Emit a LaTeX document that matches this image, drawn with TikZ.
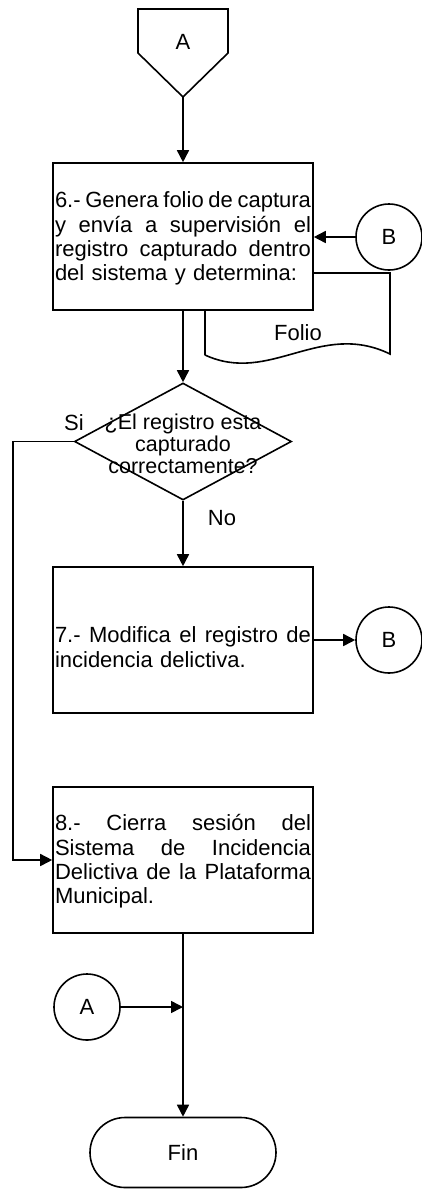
\documentclass[tikz,border=0pt]{standalone}
\usepackage{fontspec}
\setmainfont{Liberation Sans}
\usetikzlibrary{shapes.geometric,arrows.meta}
\newcommand{\jl}[1]{\leavevmode\hbox to 256pt{#1}}
\begin{document}
\begin{tikzpicture}[x=1pt,y=-1pt,
  every node/.style={font=\fontsize{22pt}{24.3pt}\selectfont},
  ln/.style={line width=1.6pt, draw=black},
  arr/.style={ln, -{Triangle[length=12pt,width=12pt]}},
  proc/.style={ln, fill=white, rectangle, minimum width=260pt, inner sep=0pt},
  txt/.style={inner sep=0pt, text width=256pt, align=left},
  conn/.style={ln, fill=white, circle, minimum size=66pt, inner sep=0pt},
  lbl/.style={inner sep=0pt}
]
\useasboundingbox (0,0) rectangle (422,1189);

% off-page connector A (top)
\draw[ln] (138,9) -- (228,9) -- (228,53) -- (183,97) -- (138,53) -- cycle;
\node[lbl] (atop) at (183,42) {A};
\coordinate (atip) at (183,97);

% document "Folio" (behind box 6)
\draw[ln, fill=white] (205,355) -- (205,273) -- (390,273) -- (390,354)
   .. controls (320,320) and (270,385) .. (205,355);
\node[lbl] (folio) at (298,333) {Folio};

% box 6
\node[proc, minimum height=147pt] (p6) at (183,236.5) {};
\node[txt] (t6) at (183,238.5) {%
\jl{6.-\hfill Genera\hfill folio\hfill de\hfill captura}\\
\jl{y\hfill envía\hfill a\hfill supervisión\hfill el}\\
\jl{registro\hfill capturado\hfill dentro}\\
del sistema y determina:};

% connector B (top right)
\node[conn] (b1) at (389,237) {B};

% decision
\node[ln, diamond, minimum width=217pt, minimum height=117pt, inner sep=0pt] (d) at (183,441.5) {};
\node[lbl, align=center, font=\fontsize{21.5pt}{22pt}\selectfont] (dtext) at (183,444) {¿El registro esta\\capturado\\correctamente?};
\node[lbl] (si) at (74,423) {Si};
\node[lbl] (no) at (222,518) {No};

% box 7
\node[proc, minimum height=146pt] (p7) at (183,640) {};
\node[txt] (t7) at (183,647) {%
\jl{7.-\hfill Modifica\hfill el\hfill registro\hfill de}\\
incidencia delictiva.};
\node[conn] (b2) at (389,640) {B};

% box 8
\node[proc, minimum height=146pt] (p8) at (183,860) {};
\node[txt] (t8) at (183,861.5) {%
\jl{8.-\hfill Cierra\hfill sesión\hfill del}\\
\jl{Sistema\hfill de\hfill Incidencia}\\
\jl{Delictiva\hfill de\hfill la\hfill Plataforma}\\
Municipal.};

% connector A (bottom)
\node[conn] (a2) at (87,1007) {A};

% terminal Fin
\node[ln, rectangle, rounded corners=35pt, minimum width=186pt, minimum height=70pt] (fin) at (183,1152.5) {Fin};

% connectors
\draw[arr] (atip) -- (p6.north);
\draw[arr] (b1.west) -- (b1.west -| p6.east);
\draw[arr] (p6.south) -- (d.north);
\draw[arr] (d.south) -- (p7.north);
\draw[arr] (p7.east |- b2.west) -- (b2.west);
\coordinate (sic) at (13,441.5);
\draw[arr] (d.west) -- (sic) |- (p8.west);
\draw[arr] (p8.south) -- (fin.north);
\draw[arr] (a2.east) -- (a2.east -| p8.south);
\end{tikzpicture}
\end{document}
